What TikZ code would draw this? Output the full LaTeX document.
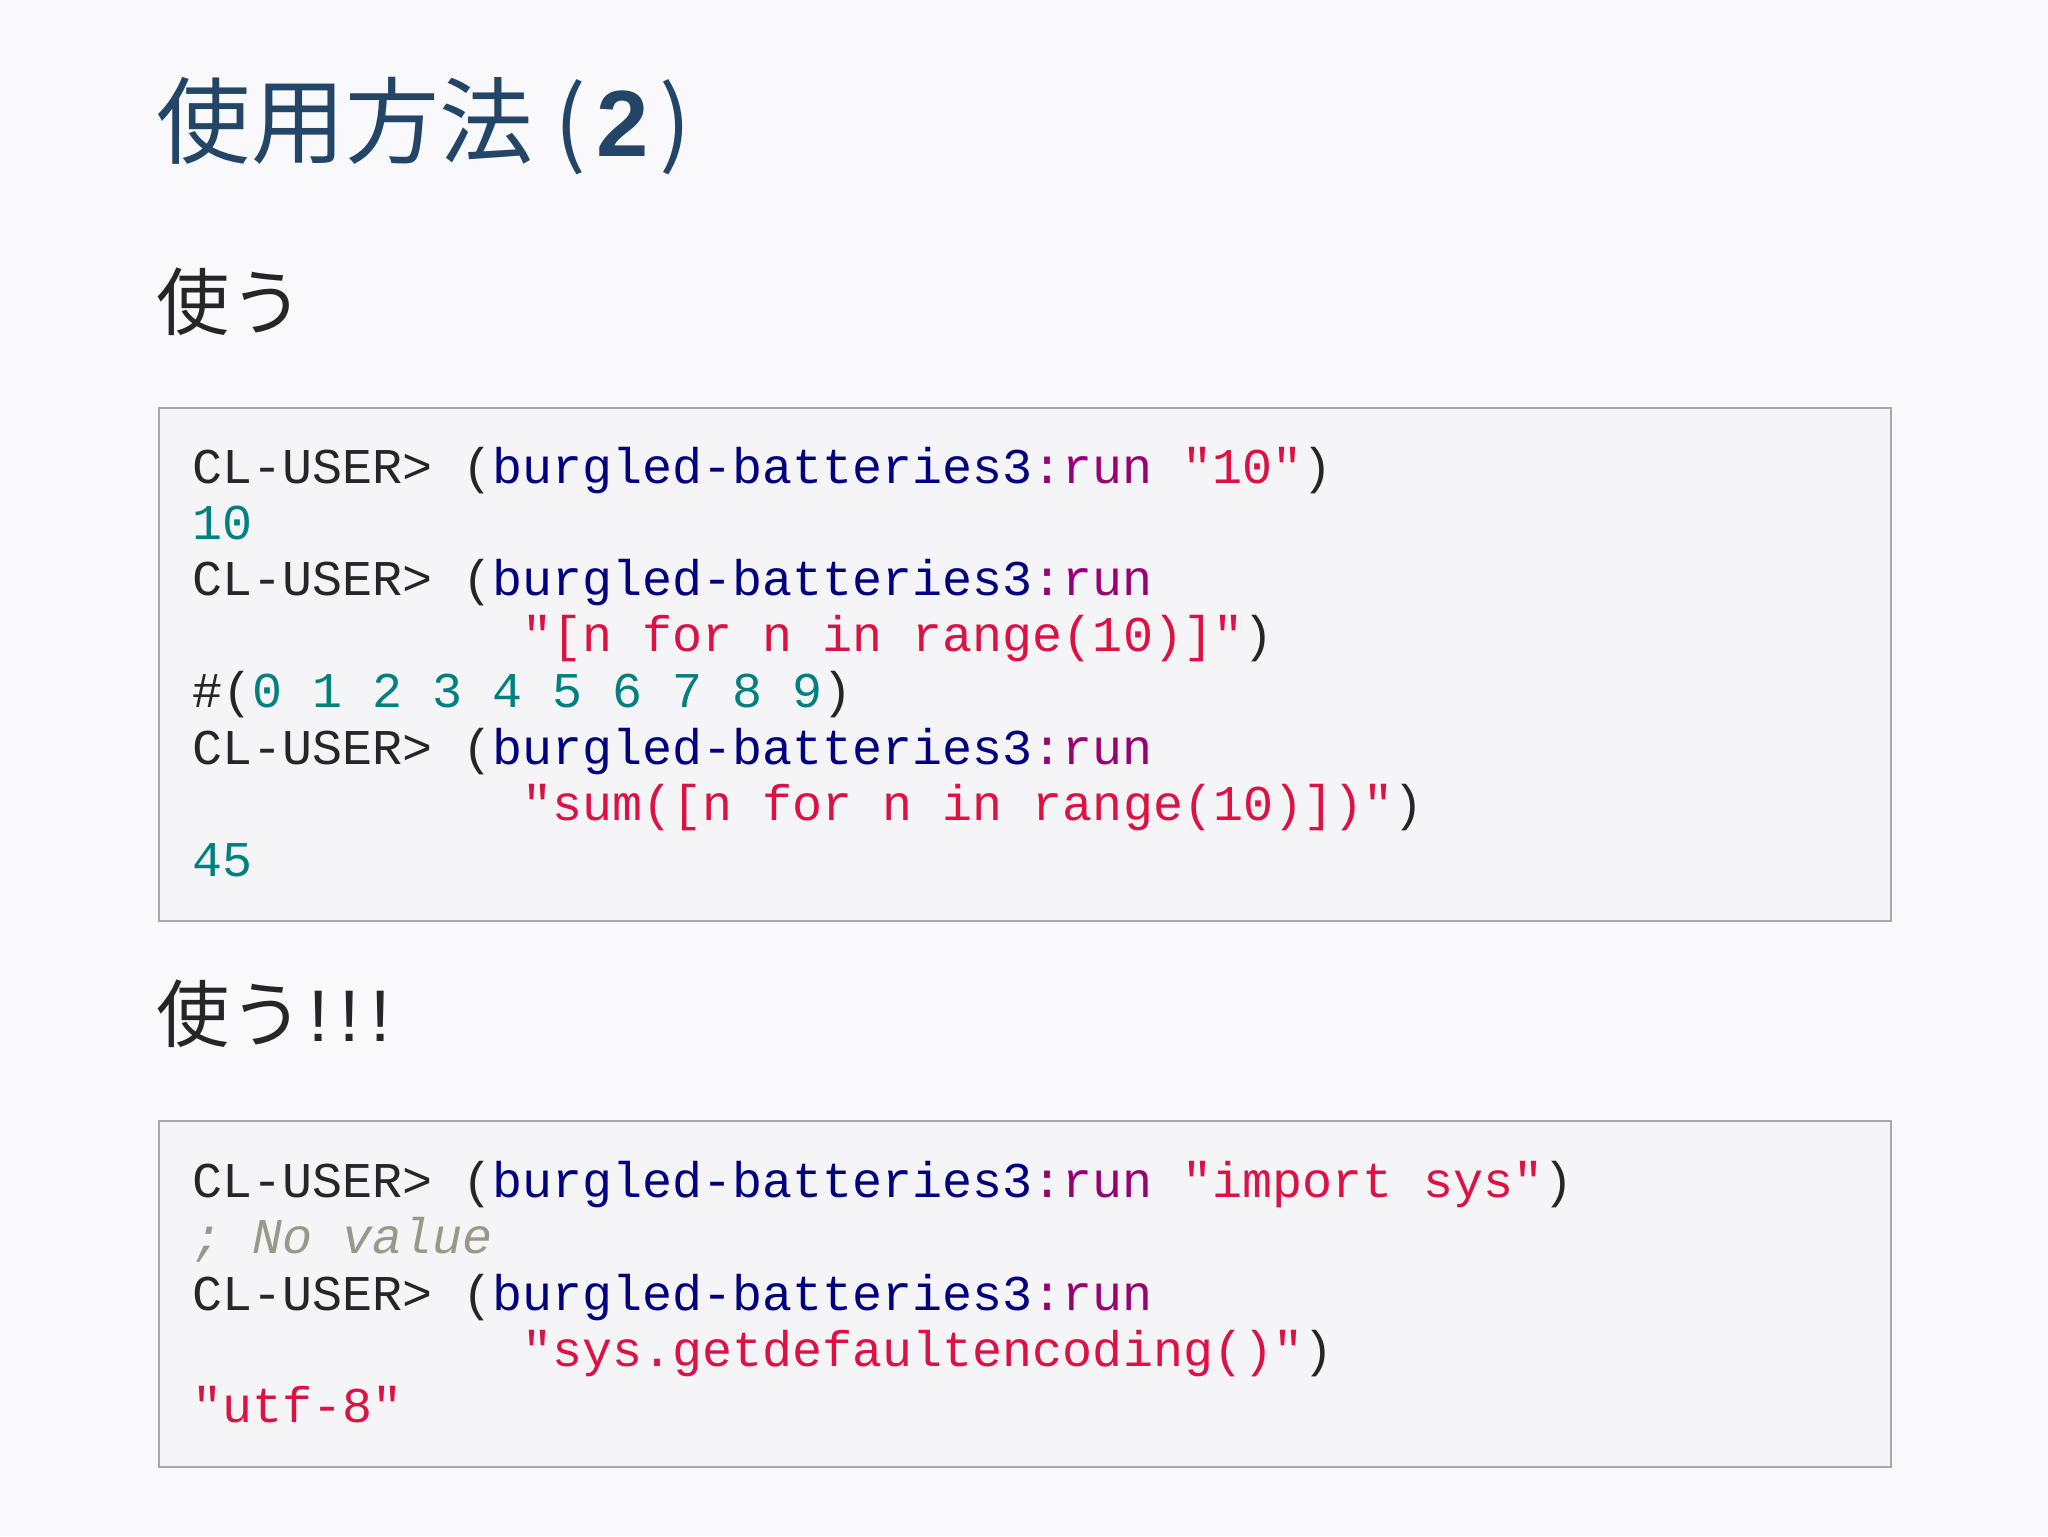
\documentclass[tikz,border=0pt]{standalone}
\usepackage{fontspec}
\setmonofont{Liberation Mono}
\newfontfamily\cjk{Noto Sans CJK JP}
\newfontfamily\lsans{Liberation Sans}
\definecolor{bgc}{HTML}{F9F9FB}
\definecolor{boxc}{HTML}{F5F5F8}
\definecolor{bordc}{HTML}{A8A8A8}
\definecolor{titc}{HTML}{234567}
\definecolor{kwc}{HTML}{000080}
\definecolor{fnc}{HTML}{990073}
\definecolor{stc}{HTML}{DD1144}
\definecolor{nmc}{HTML}{008080}
\definecolor{cmc}{HTML}{999988}
\newcommand\Kw[1]{\textcolor{kwc}{#1}}
\newcommand\Fn[1]{\textcolor{fnc}{#1}}
\newcommand\St[1]{\textcolor{stc}{#1}}
\newcommand\Nm[1]{\textcolor{nmc}{#1}}
\newcommand\Cm[1]{\textcolor{cmc}{\itshape #1}}
\tikzset{x=1pt,y=-1pt,
 code/.style={anchor=base west,inner sep=0pt,font=\ttfamily\fontsize{38.3}{43}\selectfont,text=black!85},
 codebox/.style={draw=bordc,line width=1.5pt,fill=boxc},
 head/.style={anchor=base west,inner sep=0pt,text=black!85,font=\cjk\fontsize{56}{60}\selectfont}}
\begin{document}
\begin{tikzpicture}
\fill[bgc] (0,0) rectangle (1568,1176);
\node[anchor=base west,inner sep=0pt,text=titc,font=\cjk\fontsize{72}{80}\selectfont] (title) at (120,120) {使用方法 (\kern8pt{\lsans\bfseries 2}\kern8pt)};
\node[head] (h1) at (120,252) {使う};
\node[head] (h2) at (120,797) {使う\kern4pt{\lsans !\kern8pt!\kern8pt!}};
\draw[codebox] (122,312) rectangle (1448,705);
\draw[codebox] (122,858) rectangle (1448,1123);
\node[code] (a1) at (147,370) {CL-USER> (\Kw{burgled-batteries3}\Fn{:run} \St{"10"})};
\node[code] (a2) at (147,413) {\Nm{10}};
\node[code] (a3) at (147,456) {CL-USER> (\Kw{burgled-batteries3}\Fn{:run}};
\node[code] (a4) at (400,499) {\St{"[n for n in range(10)]"})};
\node[code] (a5) at (147,542) {\#(\Nm{0 1 2 3 4 5 6 7 8 9})};
\node[code] (a6) at (147,585) {CL-USER> (\Kw{burgled-batteries3}\Fn{:run}};
\node[code] (a7) at (400,628) {\St{"sum([n for n in range(10)])"})};
\node[code] (a8) at (147,671) {\Nm{45}};
\node[code] (b1) at (147,917) {CL-USER> (\Kw{burgled-batteries3}\Fn{:run} \St{"import sys"})};
\node[code] (b2) at (147,960) {\Cm{; No value}};
\node[code] (b3) at (147,1003) {CL-USER> (\Kw{burgled-batteries3}\Fn{:run}};
\node[code] (b4) at (400,1046) {\St{"sys.getdefaultencoding()"})};
\node[code] (b5) at (147,1089) {\St{"utf-8"}};
\end{tikzpicture}
\end{document}
